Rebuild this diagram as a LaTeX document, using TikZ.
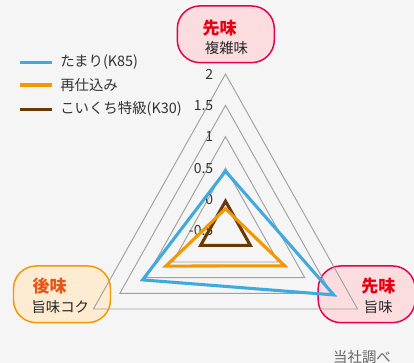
\documentclass[tikz,border=0pt]{standalone}
\usepackage{fontspec}
\setmainfont{Noto Sans CJK JP}
\definecolor{tamari}{RGB}{63,169,224}
\definecolor{saishikomi}{RGB}{243,152,0}
\definecolor{koikuchi}{RGB}{106,57,6}
\definecolor{gridgray}{RGB}{160,160,160}
\definecolor{sakiline}{RGB}{228,0,79}
\definecolor{sakifill}{RGB}{251,221,224}
\definecolor{sakitext}{RGB}{230,0,18}
\definecolor{atofill}{RGB}{253,236,210}
\definecolor{atotext}{RGB}{234,85,20}
\definecolor{paper}{RGB}{245,245,245}

\begin{document}
\begin{tikzpicture}
  [x=0.75pt,y=0.75pt,
   axisbox/.style={line width=1.1pt,rounded corners=17pt,minimum width=72.75pt,minimum height=42.5pt,inner sep=0pt},
   head/.style={font=\fontsize{12.75}{14}\selectfont\bfseries,inner sep=0pt},
   sub/.style={font=\fontsize{10.8}{12}\selectfont,text=black!85,inner sep=0pt},
   tick/.style={font=\fontsize{10.5}{12}\selectfont,text=black!80,anchor=east,inner sep=0pt},
   series/.style={line width=2.3pt},
   key/.style={font=\fontsize{10.8}{12}\selectfont,text=black!80,anchor=west,inner sep=0pt}]
  \fill[paper] (0,0) rectangle (414,363);
  \clip (0,0) rectangle (414,363);

  % axis boxes
  \node[axisbox,draw=sakiline,fill=sakifill] (topbox) at (225.8,328.7) {};
  \node[axisbox,draw=sakiline,fill=sakifill] (rightbox) at (366.7,68.7) {};
  \node[axisbox,draw=saishikomi,fill=atofill] (leftbox) at (62,68.7) {};
  \node[head,text=sakitext] (toph) at (219.7,335.3) {先味};
  \node[sub] (tops) at (226.5,314.7) {複雑味};
  \node[head,text=sakitext] (righth) at (378.3,77) {先味};
  \node[sub] (rights) at (378.3,56.3) {旨味};
  \node[head,text=atotext] (lefth) at (49.7,77) {後味};
  \node[sub] (lefts) at (60.3,56.3) {旨味コク};

  % radar
  \begin{scope}[shift={(225.5,132.3)},x=45.75pt,y=47pt]
    \foreach \r in {0.5,1,...,2.5}
      \draw[gridgray,line width=0.7pt] (90:\r) -- (-30:\r) -- (210:\r) -- cycle;
    \foreach \r/\t [count=\i] in {0/-0.5,0.5/0,1/0.5,1.5/1,2/1.5,2.5/2}
      \node[tick] (tick\i) at ([xshift=-9pt]90:\r) {\t};
    \draw[series,koikuchi] (90:0.47) -- (-30:0.47) -- (210:0.47) -- cycle;
    \draw[series,saishikomi] (90:0.35) -- (-30:1.12) -- (210:1.13) -- cycle;
    \draw[series,tamari] (90:0.95) -- (-30:2.05) -- (210:1.57) -- cycle;
  \end{scope}

  % legend
  \foreach \y/\c/\t [count=\i] in {62.3/tamari/{たまり(K85)},85/saishikomi/{再仕込み},109.3/koikuchi/{こいくち特級(K30)}} {
    \draw[series,\c] (20,363-\y) -- (52.3,363-\y);
    \node[key] (key\i) at (60,363-\y) {\t};
  }
  \node[sub,text=black!60] (source) at (362,6.3) {当社調べ};
\end{tikzpicture}
\end{document}
